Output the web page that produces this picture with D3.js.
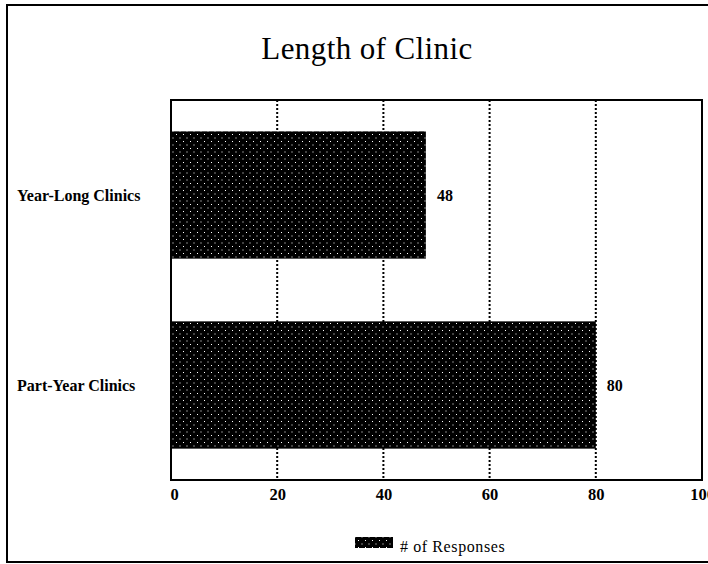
<!DOCTYPE html>
<html><head><meta charset="utf-8">
<script src="https://cdn.jsdelivr.net/npm/d3@7"></script>
<style>body{margin:0;background:#fff}svg{display:block}</style>
</head><body>
<svg id="c" width="708" height="564"></svg>
<script>
const categories = ["Year-Long Clinics", "Part-Year Clinics"];
const values = [48, 80];
const xTicks = [0, 20, 40, 60, 80, 100];
const seriesName = "# of Responses";
const title = "Length of Clinic";

const svg = d3.select("#c");
const font = "'Liberation Serif', 'Times New Roman', serif";
const m = {left: 171, right: 702, top: 100, bottom: 480};

const defs = svg.append("defs");
const pat = defs.append("pattern").attr("id", "dots").attr("patternUnits", "userSpaceOnUse")
  .attr("width", 7).attr("height", 7);
pat.append("rect").attr("width", 7).attr("height", 7).attr("fill", "#000");
pat.append("rect").attr("x", 1).attr("y", 1).attr("width", 1).attr("height", 1).attr("fill", "#fff");
pat.append("rect").attr("x", 4.5).attr("y", 4.5).attr("width", 1).attr("height", 1).attr("fill", "#fff");

// outer frame
svg.append("rect").attr("x", 7).attr("y", 5).attr("width", 710).attr("height", 557)
  .attr("fill", "none").attr("stroke", "#000").attr("stroke-width", 2);

svg.append("text").attr("x", 367).attr("y", 59).attr("text-anchor", "middle")
  .attr("font-family", font).attr("font-size", 31).attr("letter-spacing", 0.4).text(title);

const x = d3.scaleLinear().domain([0, 100]).range([m.left, m.right]);
const y = d3.scaleBand().domain(categories).range([m.top, m.bottom]).paddingInner(0.33).paddingOuter(0.165);

// gridlines
svg.append("g").selectAll("line").data(xTicks.filter(t => t > 0 && t < 100)).join("line")
  .attr("x1", d => x(d)).attr("x2", d => x(d)).attr("y1", m.top).attr("y2", m.bottom)
  .attr("stroke", "#000").attr("stroke-width", 2).attr("stroke-dasharray", "2,2");

// bars
svg.append("g").selectAll("rect").data(values).join("rect")
  .attr("x", x(0)).attr("y", (d, i) => y(categories[i]))
  .attr("width", d => x(d) - x(0)).attr("height", y.bandwidth())
  .attr("fill", "url(#dots)");

// plot box
svg.append("rect").attr("x", m.left).attr("y", m.top).attr("width", m.right - m.left).attr("height", m.bottom - m.top)
  .attr("fill", "none").attr("stroke", "#000").attr("stroke-width", 2);

// value labels
svg.append("g").selectAll("text").data(values).join("text")
  .attr("x", d => x(d) + 11).attr("y", (d, i) => y(categories[i]) + y.bandwidth() / 2 + 6)
  .attr("font-family", font).attr("font-size", 16).attr("font-weight", "bold").text(d => d);

// category labels
svg.append("g").selectAll("text").data(categories).join("text")
  .attr("x", 17).attr("y", d => y(d) + y.bandwidth() / 2 + 6)
  .attr("font-family", font).attr("font-size", 16).attr("font-weight", "bold").text(d => d);

// x axis labels
const ax = svg.append("g").attr("transform", `translate(0,${m.bottom})`)
  .call(d3.axisBottom(x).tickValues(xTicks).tickSize(0).tickPadding(8));
ax.select(".domain").remove();
ax.selectAll("text").attr("font-family", font).attr("font-size", 16.5).attr("font-weight", "bold").attr("fill", "#000")
  .attr("text-anchor", d => d === 0 ? "start" : "middle").attr("dx", d => d === 0 ? -1 : 0);

// legend
svg.append("rect").attr("x", 355).attr("y", 537).attr("width", 38).attr("height", 11).attr("fill", "url(#dots)");
svg.append("text").attr("x", 400).attr("y", 552).attr("font-family", font).attr("font-size", 16)
  .attr("letter-spacing", 0.6).text(seriesName);
</script>
</body></html>
